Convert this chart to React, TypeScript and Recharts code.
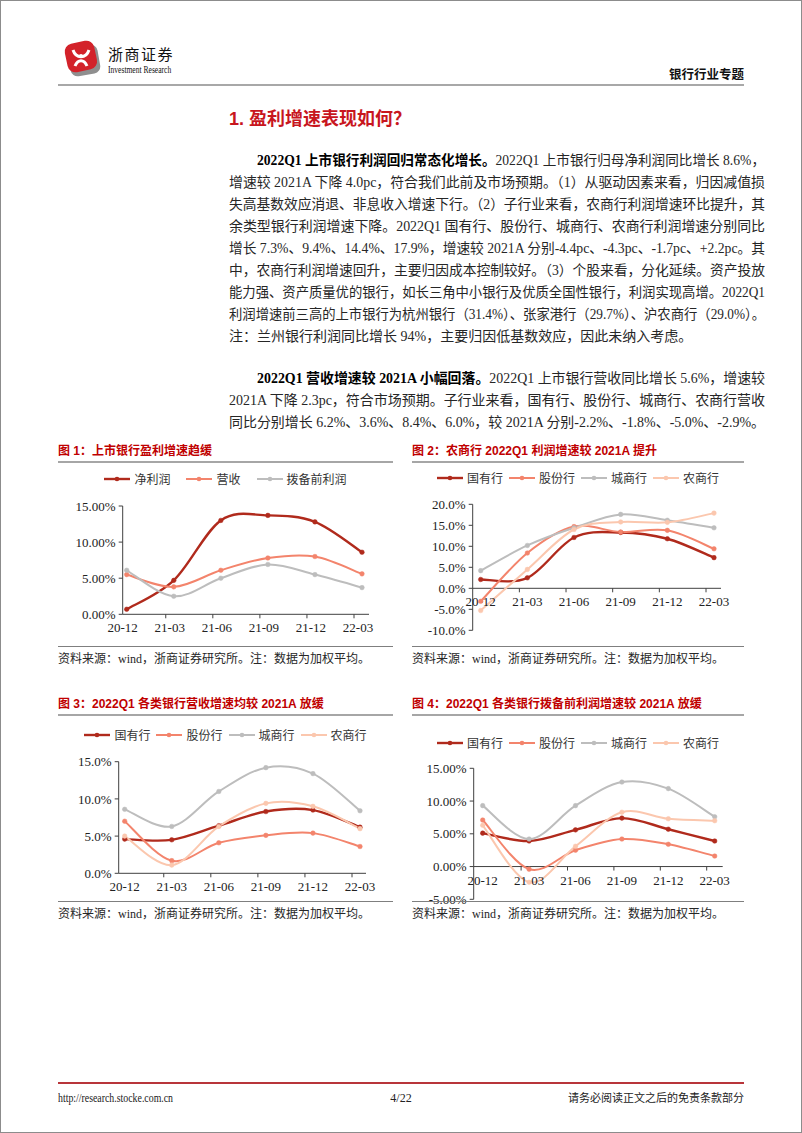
import React, { useLayoutEffect, useRef, useState } from 'react';
import { LineChart, Line, XAxis, YAxis, ReferenceLine, ReferenceDot } from 'recharts';

// ---------------- data ----------------
const QUARTERS = ['20-12', '21-03', '21-06', '21-09', '21-12', '22-03'];

// Fig 1: listed banks (%)
const NET_PROFIT = [0.7, 4.7, 13.0, 13.7, 12.8, 8.6];
const REVENUE = [5.5, 3.8, 6.1, 7.8, 8.0, 5.6];
const PPOP = [6.1, 2.5, 5.0, 6.9, 5.5, 3.7];

// Fig 2: profit growth by bank type (%)
const F2_SOE = [2.1, 2.5, 12.1, 13.3, 11.8, 7.3];
const F2_JSB = [-3.1, 8.4, 14.7, 13.4, 13.8, 9.4];
const F2_CITY = [4.2, 10.2, 14.4, 17.6, 16.2, 14.4];
const F2_RURAL = [-5.3, 4.5, 14.0, 15.8, 15.7, 17.9];

// Fig 3: revenue growth by bank type (%)
const F3_SOE = [4.6, 4.5, 6.4, 8.3, 8.5, 6.2];
const F3_JSB = [7.0, 1.7, 4.1, 5.1, 5.4, 3.6];
const F3_CITY = [8.6, 6.3, 11.0, 14.2, 13.4, 8.4];
const F3_RURAL = [5.0, 1.1, 6.3, 9.4, 9.0, 6.0];

// Fig 4: PPOP growth by bank type (%)
const F4_SOE = [5.1, 3.9, 5.6, 7.4, 5.7, 3.9];
const F4_JSB = [7.1, -0.4, 2.5, 4.2, 3.4, 1.6];
const F4_CITY = [9.3, 4.2, 9.3, 12.9, 11.9, 7.6];
const F4_RURAL = [6.3, -2.4, 3.1, 8.3, 7.3, 7.0];

const TICKS_1 = [0, 5, 10, 15];
const TICKS_2 = [-10, -5, 0, 5, 10, 15, 20];
const TICKS_3 = [0, 5, 10, 15];
const TICKS_4 = [-5, 0, 5, 10, 15];

const BANK_NAMES = ['国有行', '股份行', '城商行', '农商行'];
const FIG1_NAMES = ['净利润', '营收', '拨备前利润'];

// ---------------- styles ----------------
const C_DARK = '#B02A1C';
const C_SALMON = '#F3846C';
const C_GRAY = '#BDBDBD';
const C_PEACH = '#FBC7AE';
const TITLE_RED = '#C00000';
const SERIF = '"Liberation Serif", "Noto Sans CJK SC", serif';
const SANS = '"Liberation Sans", "Noto Sans CJK SC", sans-serif';
const CJK = '"Noto Sans CJK SC", sans-serif';

// Excel-like smoothed curve (Catmull-Rom bezier)
function excelSmooth(context: any) {
  let pts: number[][] = [];
  return {
    areaStart() {},
    areaEnd() {},
    lineStart() { pts = []; },
    point(x: number, y: number) { pts.push([+x, +y]); },
    lineEnd() {
      const n = pts.length;
      if (!n) return;
      context.moveTo(pts[0][0], pts[0][1]);
      for (let i = 0; i < n - 1; i++) {
        const p0 = pts[i - 1] || pts[i];
        const p1 = pts[i];
        const p2 = pts[i + 1];
        const p3 = pts[i + 2] || p2;
        context.bezierCurveTo(
          p1[0] + (p2[0] - p0[0]) / 6, p1[1] + (p2[1] - p0[1]) / 6,
          p2[0] - (p3[0] - p1[0]) / 6, p2[1] - (p3[1] - p1[1]) / 6,
          p2[0], p2[1]
        );
      }
    },
  };
}

type Series = { name: string; values: number[]; color: string; width: number };

function tickShape(label: string, idx: number, labelDx: number) {
  return (p: any) => (
    <g>
      {idx > 0 ? <line x1={p.cx - 8} x2={p.cx - 8} y1={p.cy} y2={p.cy + 4} stroke="#404040" strokeWidth={1} /> : null}
      <text x={p.cx + labelDx} y={p.cy + 18} textAnchor="middle" fontSize={13} fontFamily={SERIF} fill="#222">{label}</text>
    </g>
  );
}

function MiniChart(props: {
  left: number; top: number; width: number; height: number;
  margin: any; yAxisWidth: number; domain: number[]; ticks: number[];
  digits: number; series: Series[]; padding: any; labelDx: number;
}) {
  const { left, top, width, height, margin, yAxisWidth, domain, ticks, digits, series, padding, labelDx } = props;
  const data = QUARTERS.map((q, i) => {
    const row: any = { q };
    series.forEach((s, j) => { row['s' + j] = s.values[i]; });
    return row;
  });
  return (
    <div style={{ position: 'absolute', left, top, width, height }}>
      <LineChart width={width} height={height} data={data} margin={margin}>
        <XAxis dataKey="q" hide padding={padding} />
        <YAxis
          domain={domain}
          ticks={ticks}
          interval={0}
          allowDataOverflow
          width={yAxisWidth}
          tickFormatter={(v: number) => v.toFixed(digits) + '%'}
          axisLine={{ stroke: '#404040' }}
          tickLine={{ stroke: '#404040' }}
          tickSize={4}
          tickMargin={3}
          tick={{ fontSize: 13, fontFamily: SERIF, fill: '#222' }}
        />
        <ReferenceLine y={0} stroke="#404040" strokeWidth={1} />
        {QUARTERS.map((q, i) => (
          <ReferenceDot key={q} x={q} y={0} r={0} ifOverflow="visible" shape={tickShape(q, i, labelDx)} />
        ))}
        {series.map((s, j) => (
          <Line
            key={s.name}
            dataKey={'s' + j}
            name={s.name}
            type={excelSmooth as any}
            stroke={s.color}
            strokeWidth={s.width}
            dot={{ r: 2.3, fill: s.color, stroke: s.color, strokeWidth: 0.5 }}
            isAnimationActive={false}
          />
        ))}
      </LineChart>
    </div>
  );
}

function LegendRow({ left, top, width, series, gap }: { left: number; top: number; width: number; series: Series[]; gap: number }) {
  return (
    <div style={{ position: 'absolute', left, top, width, height: 16, display: 'flex', justifyContent: 'center', alignItems: 'center', gap }}>
      {series.map((s) => (
        <div key={s.name} style={{ display: 'flex', alignItems: 'center' }}>
          <svg width={26} height={8} style={{ display: 'block' }}>
            <line x1={0} x2={26} y1={4} y2={4} stroke={s.color} strokeWidth={s.width} />
            <circle cx={13} cy={4} r={2.3} fill={s.color} />
          </svg>
          <span style={{ marginLeft: 4, fontFamily: CJK, fontSize: 12, color: '#333', lineHeight: '16px' }}>{s.name}</span>
        </div>
      ))}
    </div>
  );
}

function bankSeries(a: number[], b: number[], c: number[], d: number[]): Series[] {
  return [
    { name: BANK_NAMES[0], values: a, color: C_DARK, width: 2.4 },
    { name: BANK_NAMES[1], values: b, color: C_SALMON, width: 2 },
    { name: BANK_NAMES[2], values: c, color: C_GRAY, width: 2 },
    { name: BANK_NAMES[3], values: d, color: C_PEACH, width: 2 },
  ];
}

const FIG1: Series[] = [
  { name: FIG1_NAMES[0], values: NET_PROFIT, color: C_DARK, width: 2.4 },
  { name: FIG1_NAMES[1], values: REVENUE, color: C_SALMON, width: 2 },
  { name: FIG1_NAMES[2], values: PPOP, color: C_GRAY, width: 2 },
];

// ---------------- text ----------------
type Seg = { t: string; b?: boolean };
type TLine = { segs: Seg[]; indent?: boolean; last?: boolean };
const P1: TLine[] = [
  { indent: true, segs: [{ t: '2022Q1 上市银行利润回归常态化增长。', b: true }, { t: '2022Q1 上市银行归母净利润同比增长 8.6%，' }] },
  { segs: [{ t: '增速较 2021A 下降 4.0pc，符合我们此前及市场预期。（1）从驱动因素来看，归因减值损' }] },
  { segs: [{ t: '失高基数效应消退、非息收入增速下行。（2）子行业来看，农商行利润增速环比提升，其' }] },
  { segs: [{ t: '余类型银行利润增速下降。2022Q1 国有行、股份行、城商行、农商行利润增速分别同比' }] },
  { segs: [{ t: '增长 7.3%、9.4%、14.4%、17.9%，增速较 2021A 分别-4.4pc、-4.3pc、-1.7pc、+2.2pc。其' }] },
  { segs: [{ t: '中，农商行利润增速回升，主要归因成本控制较好。（3）个股来看，分化延续。资产投放' }] },
  { segs: [{ t: '能力强、资产质量优的银行，如长三角中小银行及优质全国性银行，利润实现高增。2022Q1' }] },
  { segs: [{ t: '利润增速前三高的上市银行为杭州银行（31.4%）、张家港行（29.7%）、沪农商行（29.0%）。' }] },
  { last: true, segs: [{ t: '注：兰州银行利润同比增长 94%，主要归因低基数效应，因此未纳入考虑。' }] },
];
const P2: TLine[] = [
  { indent: true, segs: [{ t: '2022Q1 营收增速较 2021A 小幅回落。', b: true }, { t: '2022Q1 上市银行营收同比增长 5.6%，增速较' }] },
  { segs: [{ t: '2021A 下降 2.3pc，符合市场预期。子行业来看，国有行、股份行、城商行、农商行营收' }] },
  { segs: [{ t: '同比分别增长 6.2%、3.6%、8.4%、6.0%，较 2021A 分别-2.2%、-1.8%、-5.0%、-2.9%。' }] },
];

function JLine({ line, left, top, width }: { line: TLine; left: number; top: number; width: number }) {
  const ref = useRef<HTMLSpanElement>(null);
  const [st, setSt] = useState({ ls: 0, sc: 1 });
  useLayoutEffect(() => {
    const el = ref.current;
    if (!el) return;
    const w = el.getBoundingClientRect().width;
    const n = Array.from(el.textContent || '').length;
    if (w > width) setSt({ ls: 0, sc: width / w });
    else if (!line.last && n > 1) setSt({ ls: (width - w) / (n - 1), sc: 1 });
  }, []);
  return (
    <div style={{ position: 'absolute', left, top, width, height: 22, lineHeight: '22px', whiteSpace: 'nowrap', fontFamily: SERIF, fontSize: 14, color: '#262626' }}>
      <span ref={ref} style={{ display: 'inline-block', letterSpacing: st.ls, transform: `scaleX(${st.sc})`, transformOrigin: 'left center' }}>
        {line.segs.map((s, j) => (
          <span key={j} style={{ fontWeight: s.b ? 700 : 400, color: s.b ? '#000' : undefined }}>{s.t}</span>
        ))}
      </span>
    </div>
  );
}

function TextBlock({ lines, top }: { lines: TLine[]; top: number }) {
  return (
    <>
      {lines.map((ln, i) => (
        <JLine key={i} line={ln} left={ln.indent ? 256 : 228} top={top + i * 22} width={ln.indent ? 508 : 536} />
      ))}
    </>
  );
}

function ChartTitle({ left, top, width, text }: { left: number; top: number; width: number; text: string }) {
  return (
    <>
      <div style={{ position: 'absolute', left, top, fontFamily: SANS, fontWeight: 700, fontSize: 12, color: TITLE_RED, lineHeight: '16px', whiteSpace: 'nowrap' }}>{text}</div>
      <div style={{ position: 'absolute', left, top: top + 18, width, height: 1.5, background: '#A6A6A6' }} />
    </>
  );
}

function Source({ left, top, width }: { left: number; top: number; width: number }) {
  return (
    <>
      <div style={{ position: 'absolute', left, top, width, height: 1, background: '#7F7F7F' }} />
      <div style={{ position: 'absolute', left, top: top + 5, fontFamily: SERIF, fontSize: 12, color: '#262626', lineHeight: '16px', whiteSpace: 'nowrap' }}>
        资料来源：wind，浙商证券研究所。注：数据为加权平均。
      </div>
    </>
  );
}

export default function App() {
  return (
    <div style={{ position: 'absolute', left: 0, top: 0, width: 802, height: 1133, background: '#fff', overflow: 'hidden', boxSizing: 'border-box', border: '1px solid #8c8c8c' }}>
      {/* header */}
      <svg style={{ position: 'absolute', left: 62, top: 38 }} width={40} height={38}>
        <rect x={6} y={7} width={30} height={29} rx={7} fill="#8f8f8f" transform="rotate(-10 21 21)" />
        <rect x={3} y={3} width={30} height={29} rx={8} fill="#D3222A" transform="rotate(-12 18 18)" />
        <path d="M10 11 C13 20, 23 20, 26 11" stroke="#fff" strokeWidth={3} fill="none" />
        <path d="M12 27 C15 20, 21 20, 24 27" stroke="#fff" strokeWidth={3} fill="none" />
        <circle cx={18} cy={17} r={2} fill="#fff" />
      </svg>
      <div style={{ position: 'absolute', left: 107, top: 45, fontFamily: SERIF, fontSize: 15, letterSpacing: 1.5, color: '#111', lineHeight: '18px', whiteSpace: 'nowrap' }}>浙商证券</div>
      <div style={{ position: 'absolute', left: 107, top: 63, fontFamily: SERIF, fontSize: 10.5, color: '#111', lineHeight: '12px', whiteSpace: 'nowrap', transform: 'scaleX(0.72)', transformOrigin: 'left top' }}>Investment Research</div>
      <div style={{ position: 'absolute', left: 600, top: 66, width: 143, textAlign: 'right', fontFamily: SANS, fontWeight: 700, fontSize: 12.5, color: '#111', lineHeight: '16px' }}>银行行业专题</div>
      <div style={{ position: 'absolute', left: 57, top: 83, width: 686, height: 2, background: '#A8A8A8' }} />

      {/* heading */}
      <div style={{ position: 'absolute', left: 228, top: 106, fontFamily: SANS, fontWeight: 700, fontSize: 18, color: '#C8161E', lineHeight: '24px', whiteSpace: 'nowrap' }}>1. 盈利增速表现如何？</div>

      <TextBlock lines={P1} top={149} />
      <TextBlock lines={P2} top={367} />

      {/* figure 1 */}
      <ChartTitle left={57} top={442} width={335} text="图 1：上市银行盈利增速趋缓" />
      <LegendRow left={57} top={470} width={335} series={FIG1} gap={16} />
      <MiniChart
        left={40} top={460} width={340} height={180}
        margin={{ top: 45, right: 12, bottom: 26.7, left: 0 }}
        yAxisWidth={81.7} domain={[0, 15]} ticks={TICKS_1} digits={2}
        series={FIG1} padding={{ left: 4, right: 7 }} labelDx={-4}
      />
      <Source left={57} top={645} width={335} />

      {/* figure 2 */}
      <ChartTitle left={411} top={442} width={332} text="图 2：农商行 2022Q1 利润增速较 2021A 提升" />
      <LegendRow left={411} top={469} width={332} series={bankSeries(F2_SOE, F2_JSB, F2_CITY, F2_RURAL)} gap={6} />
      <MiniChart
        left={400} top={460} width={340} height={180}
        margin={{ top: 43.3, right: 20, bottom: 10.7, left: 0 }}
        yAxisWidth={71.7} domain={[-10, 20]} ticks={TICKS_2} digits={1}
        series={bankSeries(F2_SOE, F2_JSB, F2_CITY, F2_RURAL)} padding={{ left: 8, right: 7 }} labelDx={0}
      />
      <Source left={411} top={645} width={332} />

      {/* figure 3 */}
      <ChartTitle left={57} top={695} width={335} text="图 3：2022Q1 各类银行营收增速均较 2021A 放缓" />
      <LegendRow left={57} top={726} width={335} series={bankSeries(F3_SOE, F3_JSB, F3_CITY, F3_RURAL)} gap={6} />
      <MiniChart
        left={40} top={720} width={340} height={175}
        margin={{ top: 40.7, right: 15, bottom: 22.7, left: 0 }}
        yAxisWidth={77.7} domain={[0, 15]} ticks={TICKS_3} digits={1}
        series={bankSeries(F3_SOE, F3_JSB, F3_CITY, F3_RURAL)} padding={{ left: 6, right: 6 }} labelDx={0}
      />
      <Source left={57} top={900} width={335} />

      {/* figure 4 */}
      <ChartTitle left={411} top={695} width={332} text="图 4：2022Q1 各类银行拨备前利润增速较 2021A 放缓" />
      <LegendRow left={411} top={734} width={332} series={bankSeries(F4_SOE, F4_JSB, F4_CITY, F4_RURAL)} gap={6} />
      <MiniChart
        left={400} top={720} width={340} height={185}
        margin={{ top: 47.3, right: 18.3, bottom: 6.7, left: 0 }}
        yAxisWidth={72.7} domain={[-5, 15]} ticks={TICKS_4} digits={2}
        series={bankSeries(F4_SOE, F4_JSB, F4_CITY, F4_RURAL)} padding={{ left: 9, right: 8 }} labelDx={0}
      />
      <Source left={411} top={900} width={332} />

      {/* footer */}
      <div style={{ position: 'absolute', left: 57, top: 1081, width: 686, height: 2, background: '#B8353A' }} />
      <div style={{ position: 'absolute', left: 57, top: 1090, fontFamily: SERIF, fontSize: 12, color: '#222', lineHeight: '14px', whiteSpace: 'nowrap', transform: 'scaleX(0.82)', transformOrigin: 'left top' }}>http://research.stocke.com.cn</div>
      <div style={{ position: 'absolute', left: 380, top: 1090, width: 40, textAlign: 'center', fontFamily: SERIF, fontSize: 12, color: '#222', lineHeight: '14px' }}>4/22</div>
      <div style={{ position: 'absolute', left: 543, top: 1090, width: 200, textAlign: 'right', fontFamily: SERIF, fontSize: 11, color: '#222', lineHeight: '14px', whiteSpace: 'nowrap' }}>请务必阅读正文之后的免责条款部分</div>
    </div>
  );
}
